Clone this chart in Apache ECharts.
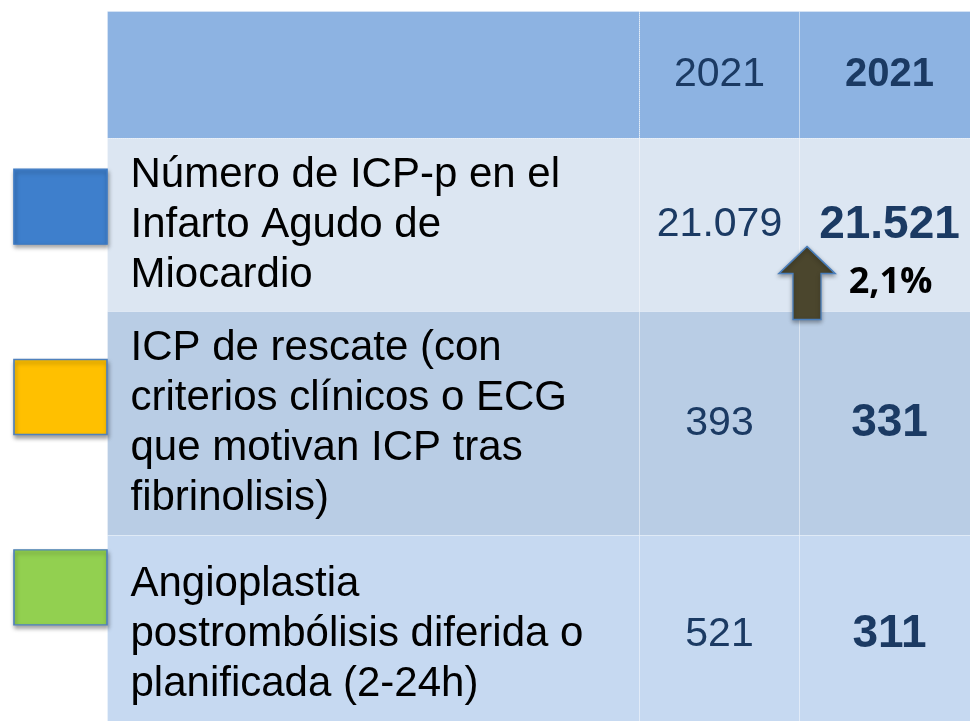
<!DOCTYPE html>
<html>
<head>
<meta charset="utf-8">
<script src="https://cdn.jsdelivr.net/npm/echarts@6/dist/echarts.min.js"></script>
<style>
  html, body { margin: 0; padding: 0; background: #ffffff; }
  #chart { width: 970px; height: 721px; }
</style>
</head>
<body>
<div id="chart"></div>
<script>
// ---------- data ----------
const categories = [
  'Número de ICP-p en el\nInfarto Agudo de\nMiocardio',
  'ICP de rescate (con\ncriterios clínicos o ECG\nque motivan ICP tras\nfibrinolisis)',
  'Angioplastia\npostrombólisis diferida o\nplanificada (2-24h)'
];
const headers = ['2021', '2021'];
const valuesA = [21079, 393, 521];
const valuesB = [21521, 331, 311];
const changeB = ['2,1%', null, null];
const markerColors = ['#3E7FCC', '#FFC000', '#92D050'];

// ---------- layout / style ----------
const FONT = "'Liberation Sans', Arial, Helvetica, sans-serif";
const NUM_COLOR = '#1B3A63';
const HEADER_COLOR = '#8DB3E2';
const ROW_COLORS = ['#DCE6F2', '#B9CDE5', '#C6D9F1'];
const LINE = { borderColor: 'rgba(255,255,255,0.5)', borderWidth: 1, borderType: 'dotted' };
const COL_WIDTHS = [160, 180];
const ROW_HEIGHTS = [173, 224, 198];
const LABEL_COL_WIDTH = 532;
const HEADER_ROW_HEIGHT = 127;
const ARROW = 'path://M28,0 L56,27 L42,27 L42,73 L14,73 L14,27 L0,27 Z';

function fmt(n) { return String(n).replace(/\B(?=(\d{3})+(?!\d))/g, '.'); }

// the two header captions are identical; an invisible zero-width suffix keeps the matrix keys distinct
const colKeys = headers.map((h, i) => h + '\u200B'.repeat(i));

const xData = headers.map((h, i) => ({
  value: colKeys[i],
  size: COL_WIDTHS[i],
  label: {
    fontFamily: FONT,
    fontSize: i === 1 ? 40 : 41,
    fontWeight: i === 1 ? 'bold' : 'normal',
    color: NUM_COLOR
  }
}));

const yData = categories.map((c, i) => ({
  value: c,
  size: ROW_HEIGHTS[i],
  itemStyle: Object.assign({ color: ROW_COLORS[i] }, LINE)
}));

const bodyData = [];
categories.forEach((cat, r) => {
  [valuesA, valuesB].forEach((vals, c) => {
    const bold = c === 1;
    bodyData.push({
      coord: [colKeys[c], cat],
      itemStyle: Object.assign({ color: ROW_COLORS[r] }, LINE),
      value: fmt(vals[r]),
      label: {
        fontFamily: FONT,
        fontSize: bold ? 46 : 41,
        fontWeight: bold ? 'bold' : 'normal',
        color: NUM_COLOR
      }
    });
  });
});

const arrowData = [];
changeB.forEach((ch, r) => {
  if (ch) arrowData.push({ value: [colKeys[1], categories[r]], change: ch });
});

const chart = echarts.init(document.getElementById('chart'), null, { renderer: 'canvas' });
chart.setOption({
  animation: false,
  backgroundColor: '#ffffff',
  matrix: {
    left: 107,
    top: 11,
    width: LABEL_COL_WIDTH + COL_WIDTHS[0] + COL_WIDTHS[1],
    height: HEADER_ROW_HEIGHT + ROW_HEIGHTS.reduce((a, b) => a + b, 0),
    backgroundStyle: { color: 'transparent', borderWidth: 0 },
    corner: {
      itemStyle: Object.assign({ color: HEADER_COLOR }, LINE)
    },
    x: {
      levelSize: HEADER_ROW_HEIGHT,
      levels: [{ levelSize: HEADER_ROW_HEIGHT }],
      data: xData,
      itemStyle: Object.assign({ color: HEADER_COLOR }, LINE),
      dividerLineStyle: { color: 'rgba(255,255,255,0.5)', width: 1, type: 'dotted' },
      label: { fontFamily: FONT, fontSize: 41, color: NUM_COLOR }
    },
    y: {
      levelSize: LABEL_COL_WIDTH,
      levels: [{ levelSize: LABEL_COL_WIDTH }],
      data: yData,
      itemStyle: LINE,
      dividerLineStyle: { color: 'rgba(255,255,255,0.5)', width: 1, type: 'dotted' },
      label: {
        fontFamily: FONT,
        fontSize: 42,
        lineHeight: 50,
        color: '#000000',
        position: 'insideLeft',
        distance: 20,
        align: 'left',
        overflow: 'none'
      }
    },
    body: {
      data: bodyData,
      itemStyle: LINE,
      label: { fontFamily: FONT, fontSize: 41, color: NUM_COLOR }
    }
  },
  grid: { left: 0, width: 121, top: 111.5, height: 571, show: false },
  xAxis: { type: 'category', data: ['marker'], show: false },
  yAxis: { type: 'category', data: categories, inverse: true, show: false },
  series: [
    {
      type: 'scatter',
      name: 'marcadores',
      symbol: 'rect',
      symbolSize: [93, 75],
      silent: true,
      data: categories.map((c, i) => ({
        value: [0, i],
        itemStyle: {
          color: markerColors[i],
          borderColor: i === 0 ? '#3C7AC4' : '#4F81BD',
          borderWidth: 1.5,
          shadowColor: 'rgba(0,0,0,0.35)',
          shadowBlur: 4,
          shadowOffsetX: 1,
          shadowOffsetY: 3,
          opacity: 1
        }
      }))
    },
    {
      type: 'scatter',
      name: 'flecha',
      coordinateSystem: 'matrix',
      matrixIndex: 0,
      symbol: ARROW,
      symbolSize: [56, 73],
      symbolOffset: [-82, 58.5],
      silent: true,
      z: 10,
      data: arrowData,
      itemStyle: {
        color: '#4B462D',
        borderColor: '#4A7EBB',
        borderWidth: 1.5,
        shadowColor: 'rgba(0,0,0,0.35)',
        shadowBlur: 4,
        shadowOffsetY: 2,
        opacity: 1
      },
      label: {
        show: true,
        position: 'right',
        distance: 13,
        formatter: (p) => p.data.change,
        fontFamily: "'Open Sans', sans-serif",
        fontSize: 36,
        fontWeight: 'bold',
        color: '#000000'
      }
    }
  ]
});
</script>
</body>
</html>
